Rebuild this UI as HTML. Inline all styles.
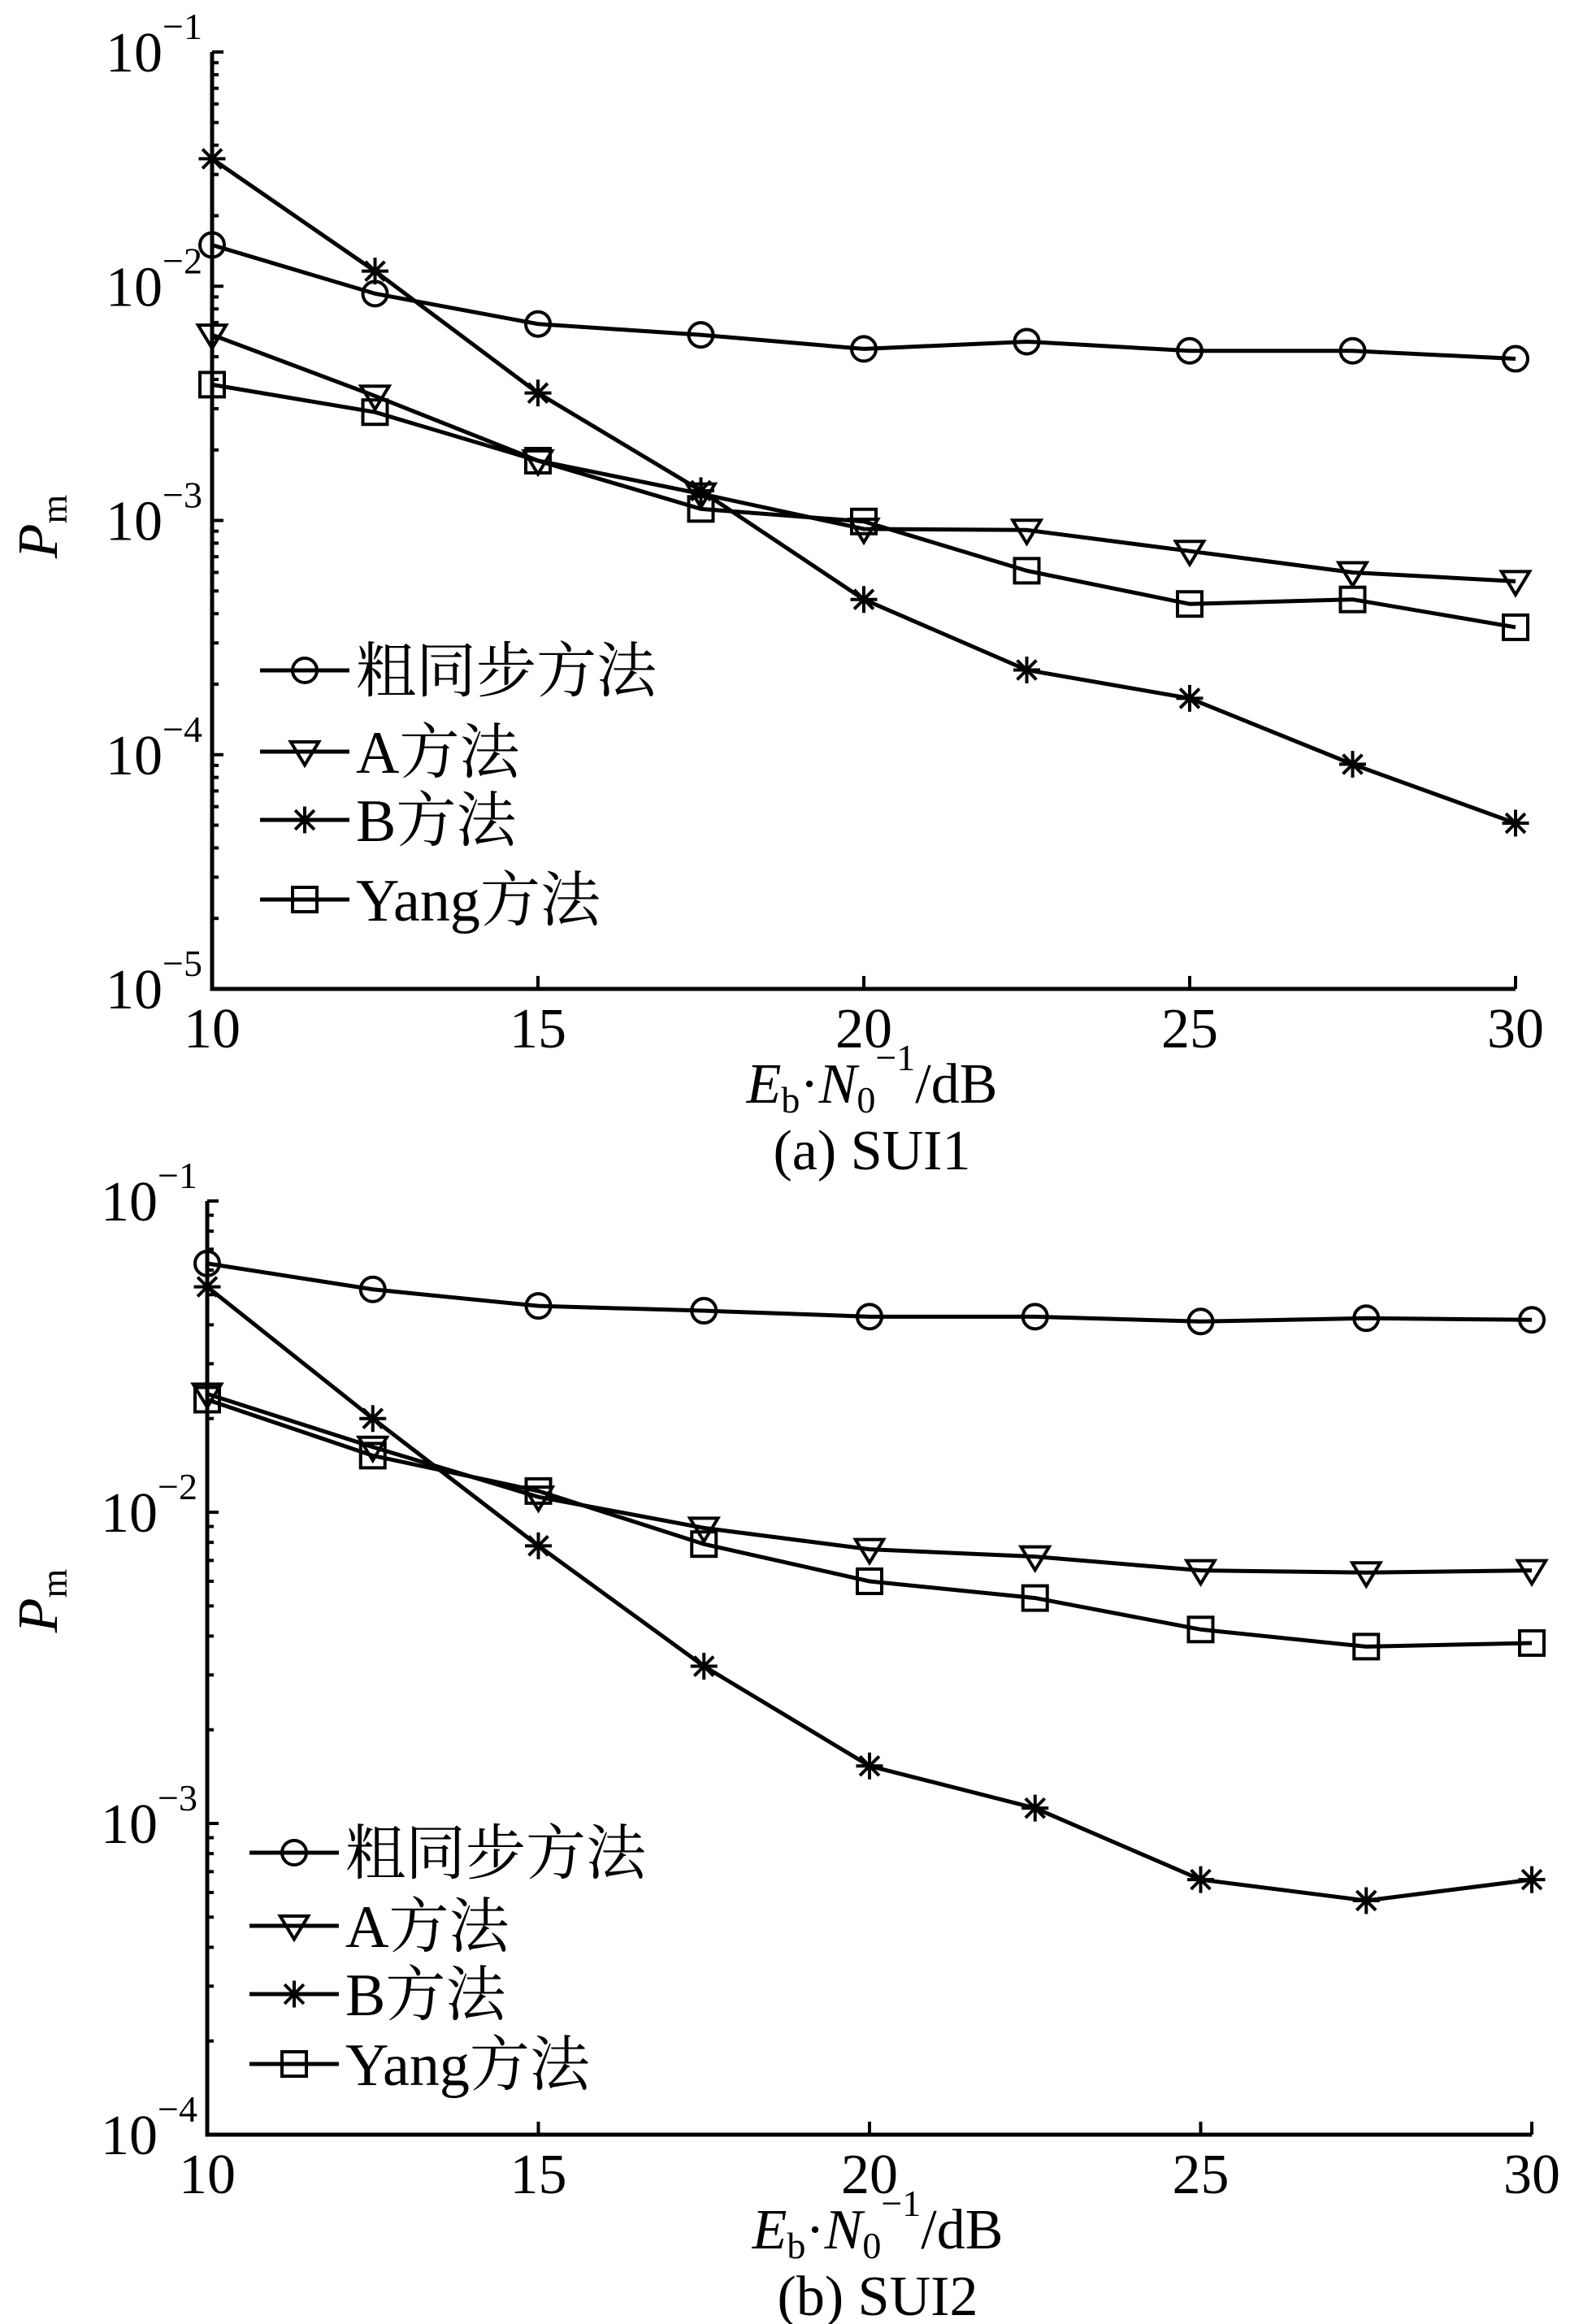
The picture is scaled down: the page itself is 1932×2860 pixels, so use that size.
<!DOCTYPE html>
<html><head><meta charset="utf-8"><style>
html,body{margin:0;padding:0;background:#fff}
svg{display:block}
svg text{font-family:"Liberation Serif","Times New Roman","Noto Serif CJK SC",serif !important;fill:#000}
</style></head><body>
<svg id="fig" width="1932" height="2860" viewBox="0 0 1932 2860" xmlns="http://www.w3.org/2000/svg" font-family="Liberation Serif, Noto Serif CJK SC, serif"></svg>
<script>
const xCats = [10, 12.5, 15, 17.5, 20, 22.5, 25, 27.5, 30];
const xTicks = [10, 15, 20, 25, 30];
const seriesNames = ["粗同步方法", "A方法", "B方法", "Yang方法"];
const seriesMarkers = ["circle", "tri", "star", "square"];
// Panel (a) SUI1
const a_coarse = [0.015, 0.0093, 0.0069, 0.0062, 0.0054, 0.0058, 0.0053, 0.0053, 0.0049];
const a_A = [0.0062, 0.0034, 0.0018, 0.0013, 0.00092, 0.00091, 0.00074, 0.0006, 0.00055];
const a_B = [0.035, 0.0116, 0.0035, 0.00134, 0.00046, 0.00023, 0.000174, 0.000091, 0.000051];
const a_Yang = [0.0038, 0.0029, 0.0018, 0.00112, 0.00099, 0.00061, 0.00044, 0.00046, 0.00035];
// Panel (b) SUI2
const b_coarse = [0.063, 0.052, 0.046, 0.0444, 0.0425, 0.0425, 0.041, 0.042, 0.0415];
const b_A = [0.024, 0.0162, 0.0112, 0.0089, 0.0076, 0.0072, 0.0065, 0.0064, 0.0065];
const b_B = [0.053, 0.02, 0.0078, 0.0032, 0.00153, 0.00112, 0.00066, 0.000565, 0.00066];
const b_Yang = [0.023, 0.0152, 0.0117, 0.0079, 0.006, 0.0053, 0.0042, 0.0037, 0.0038];
const a_yExps = [-1, -2, -3, -4, -5];
const b_yExps = [-1, -2, -3, -4];

const NS = "http://www.w3.org/2000/svg";
const svg = document.getElementById("fig");
const FF = '"Liberation Serif", "Noto Serif CJK SC", serif';
function mk(tag, attrs, parent) {
  const e = document.createElementNS(NS, tag);
  for (const k in attrs) e.setAttribute(k, attrs[k]);
  if (tag === "text") e.setAttribute("font-family", FF);
  (parent || svg).appendChild(e);
  return e;
}
const LW = 5, MS = 15;

function marker(g, type, cx, cy) {
  let m;
  if (type === "circle") m = mk("circle", {cx, cy, r: MS, fill: "none", stroke: "#000", "stroke-width": 4}, g);
  else if (type === "square") m = mk("rect", {x: cx - MS, y: cy - MS, width: 2 * MS, height: 2 * MS, fill: "none", stroke: "#000", "stroke-width": 4}, g);
  else if (type === "tri") m = mk("polygon", {points: `${cx - MS * 1.15},${cy - MS * 0.8} ${cx + MS * 1.15},${cy - MS * 0.8} ${cx},${cy + MS * 1.1}`, fill: "none", stroke: "#000", "stroke-width": 4}, g);
  else {
    const r = MS * 1.1;
    let d = `M${cx - r},${cy}H${cx + r}M${cx},${cy - r}V${cy + r}M${cx - r * .72},${cy - r * .72}L${cx + r * .72},${cy + r * .72}M${cx - r * .72},${cy + r * .72}L${cx + r * .72},${cy - r * .72}`;
    m = mk("path", {d, stroke: "#000", "stroke-width": 4, fill: "none"}, g);
  }
  return m;
}

function panel(p) {
  const g = mk("g", {});
  
  
  const eMax = p.yExps[0], eMin = p.yExps[p.yExps.length - 1];
  const xs = v => p.x0 + (v - 10) / 20 * (p.x1 - p.x0);
  const ys = v => p.yTop + (eMax - Math.log10(v)) / (eMax - eMin) * (p.yBot - p.yTop);
  const ax = mk("path", {d: `M${p.x0},${p.yTop}V${p.yBot}H${p.x1}`, stroke: "#000", "stroke-width": LW, fill: "none"}, g);
  
  
  for (let e = eMin; e <= eMax; e++) {
    const y = ys(Math.pow(10, e));
    mk("line", {x1: p.x0, x2: p.x0 + 14, y1: y, y2: y, stroke: "#000", "stroke-width": 4}, g);
    const t = mk("text", {x: p.x0 - 12, y: y + 24, "font-size": 70, "text-anchor": "end"}, g);
    
    
    t.innerHTML = `10<tspan dy="-40" font-size="46">−${-e}</tspan>`;
    if (e < eMax) for (let k = 2; k <= 9; k++) {
      const yy = ys(k * Math.pow(10, e));
      mk("line", {x1: p.x0, x2: p.x0 + 8, y1: yy, y2: yy, stroke: "#000", "stroke-width": 4}, g);
    }
  }
  xTicks.forEach(v => {
    const x = xs(v);
    mk("line", {x1: x, x2: x, y1: p.yBot, y2: p.yBot - 16, stroke: "#000", "stroke-width": 4}, g);
    const t = mk("text", {x: x, y: p.yBot + 72, "font-size": 70, "text-anchor": "middle"}, g);
    
    
    t.textContent = v;
  });
  const xl = mk("text", {x: (p.x0 + p.x1) / 2 + 10, y: p.yBot + 140, "font-size": 70, "text-anchor": "middle"}, g);
  
  
  xl.innerHTML = `<tspan font-style="italic">E</tspan><tspan font-size="46" dy="12">b</tspan><tspan dy="-12">·</tspan><tspan font-style="italic">N</tspan><tspan font-size="46" dy="12">0</tspan><tspan font-size="46" dy="-52">−1</tspan><tspan dy="40">/dB</tspan>`;
  const cap = mk("text", {x: (p.x0 + p.x1) / 2 + 10, y: p.yBot + 222, "font-size": 70, "text-anchor": "middle"}, g);
  
  
  cap.textContent = p.caption;
  const yl = mk("text", {x: 0, y: 0, "font-size": 70, transform: `translate(${p.ylx},${p.yly}) rotate(-90)`, "text-anchor": "middle"}, g);
  
  
  yl.innerHTML = `<tspan font-style="italic">P</tspan><tspan font-size="46" dy="12">m</tspan>`;
  p.series.forEach((vals, i) => {
    const sg = mk("g", {}, g);
    
    
    const pts = vals.map((v, j) => `${xs(xCats[j])},${ys(v)}`).join(" ");
    mk("polyline", {points: pts, fill: "none", stroke: "#000", "stroke-width": LW}, sg);
    vals.forEach((v, j) => {
      const m = marker(sg, seriesMarkers[i], xs(xCats[j]), ys(v));
      
      
    });
  });
  const lg = mk("g", {}, g);
  
  
  seriesNames.forEach((n, i) => {
    const y = p.legY[i];
    const e = mk("g", {}, lg);
    
    
    mk("line", {x1: p.legX, x2: p.legX + 110, y1: y, y2: y, stroke: "#000", "stroke-width": LW}, e);
    marker(e, seriesMarkers[i], p.legX + 55, y);
    const t = mk("text", {x: p.legX + 118, y: y + 26, "font-size": 74}, e);
    t.textContent = n;
  });
}

panel({name: "panel-a-sui1", x0: 261, x1: 1865, yTop: 64, yBot: 1217, yExps: a_yExps,
  series: [a_coarse, a_A, a_B, a_Yang], caption: "(a) SUI1", ylx: 70, yly: 648,
  legX: 320, legY: [825, 925, 1009, 1107]});
panel({name: "panel-b-sui2", x0: 255, x1: 1885, yTop: 1478, yBot: 2627, yExps: b_yExps,
  series: [b_coarse, b_A, b_B, b_Yang], caption: "(b) SUI2", ylx: 70, yly: 1970,
  legX: 307, legY: [2280, 2370, 2454, 2540]});
</script>
</body></html>
